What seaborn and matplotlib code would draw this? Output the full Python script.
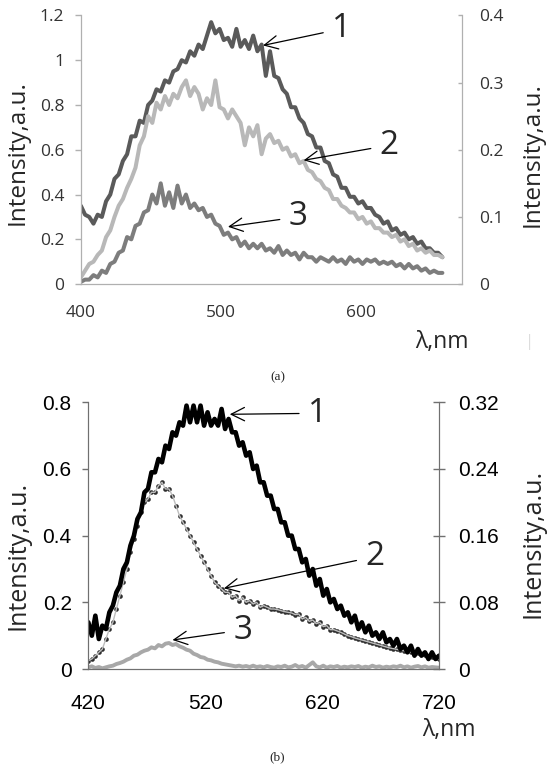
import numpy as np
import matplotlib
matplotlib.use("Agg")
import matplotlib.pyplot as plt
from matplotlib.ticker import FuncFormatter
import seaborn as sns

# ---- panel (a) ----
wl_a = np.arange(400, 661, 3)
a_curve1 = [0.35, 0.31, 0.30, 0.27, 0.31, 0.30, 0.37, 0.40, 0.47, 0.49,
            0.55, 0.58, 0.66, 0.66, 0.73, 0.72, 0.80, 0.82, 0.87, 0.86,
            0.91, 0.90, 0.95, 0.96, 1.00, 0.99, 1.04, 1.02, 1.07, 1.05,
            1.11, 1.17, 1.12, 1.14, 1.09, 1.10, 1.06, 1.14, 1.06, 1.09,
            1.05, 1.11, 1.04, 1.07, 0.93, 1.04, 0.93, 0.92, 0.87, 0.85,
            0.79, 0.79, 0.74, 0.72, 0.67, 0.66, 0.61, 0.61, 0.55, 0.54,
            0.49, 0.48, 0.43, 0.43, 0.39, 0.39, 0.36, 0.37, 0.34, 0.34,
            0.31, 0.30, 0.27, 0.28, 0.24, 0.25, 0.22, 0.23, 0.20, 0.21,
            0.18, 0.19, 0.16, 0.16, 0.14, 0.14, 0.12]
a_curve2 = [0.03, 0.06, 0.09, 0.10, 0.13, 0.15, 0.21, 0.24, 0.30, 0.35,
            0.38, 0.43, 0.47, 0.52, 0.62, 0.66, 0.75, 0.72, 0.81, 0.78,
            0.84, 0.80, 0.85, 0.83, 0.88, 0.91, 0.84, 0.88, 0.85, 0.78,
            0.83, 0.80, 0.91, 0.79, 0.78, 0.74, 0.78, 0.75, 0.72, 0.62,
            0.70, 0.66, 0.71, 0.58, 0.65, 0.67, 0.63, 0.64, 0.60, 0.61,
            0.57, 0.58, 0.54, 0.55, 0.51, 0.50, 0.47, 0.46, 0.43, 0.42,
            0.38, 0.38, 0.35, 0.34, 0.32, 0.32, 0.29, 0.30, 0.27, 0.28,
            0.25, 0.25, 0.23, 0.23, 0.21, 0.22, 0.19, 0.20, 0.17, 0.18,
            0.15, 0.16, 0.14, 0.15, 0.13, 0.13, 0.12]
a_curve3 = [0.01, 0.02, 0.02, 0.04, 0.03, 0.06, 0.05, 0.09, 0.10, 0.14,
            0.15, 0.21, 0.20, 0.26, 0.27, 0.32, 0.33, 0.40, 0.36, 0.45,
            0.35, 0.41, 0.34, 0.44, 0.36, 0.40, 0.34, 0.36, 0.33, 0.34,
            0.30, 0.31, 0.27, 0.26, 0.22, 0.23, 0.20, 0.21, 0.17, 0.19,
            0.16, 0.18, 0.16, 0.18, 0.15, 0.16, 0.14, 0.17, 0.13, 0.15,
            0.13, 0.14, 0.11, 0.14, 0.12, 0.12, 0.10, 0.12, 0.11, 0.10,
            0.12, 0.10, 0.11, 0.09, 0.12, 0.10, 0.11, 0.09, 0.11, 0.10,
            0.11, 0.09, 0.10, 0.09, 0.10, 0.08, 0.09, 0.07, 0.09, 0.07,
            0.08, 0.06, 0.07, 0.05, 0.06, 0.05, 0.05]
a_xticks = [400, 500, 600]
a_left_ticks = [0, 0.2, 0.4, 0.6, 0.8, 1.0, 1.2]
a_right_ticks = [0, 0.1, 0.2, 0.3, 0.4]

# ---- panel (b) ----
wl_b = np.arange(420, 721, 3)
b_curve1 = [0.14, 0.10, 0.16, 0.09, 0.13, 0.12, 0.17, 0.19, 0.23, 0.25,
            0.30, 0.32, 0.37, 0.40, 0.45, 0.47, 0.53, 0.54, 0.59, 0.59,
            0.63, 0.62, 0.67, 0.66, 0.71, 0.70, 0.74, 0.73, 0.79, 0.74,
            0.79, 0.74, 0.79, 0.73, 0.77, 0.73, 0.75, 0.73, 0.78, 0.72,
            0.75, 0.71, 0.71, 0.67, 0.68, 0.64, 0.65, 0.60, 0.61, 0.56,
            0.56, 0.52, 0.52, 0.48, 0.48, 0.44, 0.44, 0.40, 0.40, 0.36,
            0.36, 0.32, 0.33, 0.28, 0.30, 0.25, 0.27, 0.22, 0.24, 0.20,
            0.21, 0.18, 0.19, 0.16, 0.17, 0.14, 0.16, 0.12, 0.14, 0.11,
            0.13, 0.10, 0.11, 0.09, 0.11, 0.08, 0.09, 0.07, 0.09, 0.06,
            0.07, 0.05, 0.07, 0.04, 0.06, 0.04, 0.05, 0.03, 0.05, 0.03,
            0.04]
b_curve2 = [0.025, 0.03, 0.04, 0.05, 0.06, 0.09, 0.12, 0.14, 0.18, 0.22,
            0.26, 0.30, 0.35, 0.39, 0.43, 0.47, 0.50, 0.51, 0.53, 0.53,
            0.55, 0.56, 0.54, 0.54, 0.52, 0.49, 0.46, 0.44, 0.42, 0.40,
            0.38, 0.36, 0.34, 0.32, 0.30, 0.28, 0.26, 0.25, 0.24, 0.23,
            0.23, 0.215, 0.22, 0.205, 0.215, 0.20, 0.205, 0.195, 0.20, 0.185,
            0.19, 0.185, 0.18, 0.18, 0.178, 0.175, 0.172, 0.17, 0.168, 0.163,
            0.165, 0.15, 0.155, 0.143, 0.147, 0.136, 0.14, 0.127, 0.13, 0.118,
            0.118, 0.114, 0.11, 0.105, 0.10, 0.097, 0.093, 0.09, 0.087, 0.084,
            0.081, 0.078, 0.075, 0.072, 0.069, 0.066, 0.063, 0.061, 0.059, 0.057,
            0.055, 0.053, 0.051, 0.049, 0.047, 0.045, 0.043, 0.040, 0.037, 0.034,
            0.03]
b_curve3 = [0.005, 0.008, 0.003, 0.006, 0.002, 0.005, 0.008, 0.010, 0.015, 0.018,
            0.022, 0.028, 0.032, 0.040, 0.043, 0.050, 0.055, 0.058, 0.065, 0.062,
            0.072, 0.068, 0.076, 0.078, 0.072, 0.075, 0.068, 0.064, 0.058, 0.055,
            0.046, 0.042, 0.036, 0.034, 0.028, 0.026, 0.022, 0.020, 0.016, 0.014,
            0.012, 0.010, 0.008, 0.010, 0.007, 0.009, 0.006, 0.010, 0.006, 0.008,
            0.005, 0.009, 0.006, 0.004, 0.008, 0.006, 0.010, 0.005, 0.007, 0.012,
            0.006, 0.009, 0.004, 0.012, 0.020, 0.008, 0.005, 0.010, 0.004, 0.008,
            0.006, 0.009, 0.004, 0.007, 0.005, 0.008, 0.006, 0.009, 0.004, 0.007,
            0.005, 0.010, 0.006, 0.008, 0.004, 0.007, 0.005, 0.008, 0.006, 0.010,
            0.005, 0.008, 0.004, 0.007, 0.009, 0.005, 0.008, 0.004, 0.006, 0.005,
            0.004]
b_xticks = [420, 520, 620, 720]
b_left_ticks = [0, 0.2, 0.4, 0.6, 0.8]
b_right_ticks = [0, 0.08, 0.16, 0.24, 0.32]

sns.set_style("white")
plt.rcParams['font.family'] = ['Open Sans', 'DejaVu Sans']

fmt = FuncFormatter(lambda v, p: "%g" % round(v, 3))
H = 772.0

fig = plt.figure(figsize=(5.5, 7.72), dpi=100)

# panel (a)
ax = fig.add_axes([0.147, 0.632, 0.693, 0.348])
sns.lineplot(x=wl_a, y=a_curve1, ax=ax, color="#5a5a5a", linewidth=2.9)
sns.lineplot(x=wl_a, y=a_curve2, ax=ax, color="#b8b8b8", linewidth=2.9)
sns.lineplot(x=wl_a, y=a_curve3, ax=ax, color="#7d7d7d", linewidth=2.9)
ax.set_xlim(400, 672)
ax.set_ylim(0, 1.2)
ax.set_xticks(a_xticks)
ax.set_yticks(a_left_ticks)
ax.yaxis.set_major_formatter(fmt)
ax2 = ax.twinx()
ax2.set_ylim(0, 0.4)
ax2.set_yticks(a_right_ticks)
ax2.yaxis.set_major_formatter(fmt)
for a in (ax, ax2):
    for s in a.spines.values():
        s.set_color("#b0b0b0")
    a.spines["top"].set_visible(False)
    a.tick_params(colors="#b0b0b0", labelcolor="#333333", labelsize=12.5,
                  length=4, width=1, direction="out")
ax.tick_params(axis="x", pad=11)
ax.tick_params(axis="y", pad=8)
ax2.tick_params(axis="y", direction="in", length=3, pad=12)

fig.text(18 / 550, 1 - 153 / H, "Intensity,a.u.", fontsize=17.5, rotation=90,
         ha="center", va="center")
fig.text(533 / 550, 1 - 155 / H, "Intensity,a.u.", fontsize=17.5, rotation=90,
         ha="center", va="center")

for txt, xy, xyt in [("1", (530, 1.066), (586, 1.14)),
                     ("2", (559, 0.553), (620, 0.62)),
                     ("3", (505, 0.256), (555, 0.30))]:
    ax.annotate(txt, xy=xy, xytext=xyt, fontsize=24, ha="center", va="center",
                arrowprops=dict(arrowstyle="->", color="black", lw=0.9,
                                shrinkA=4, shrinkB=0))
fig.text(442 / 550, 1 - 342 / H, "λ,nm", fontsize=16.5, ha="center", va="center")
fig.text(530 / 550, 1 - 342 / H, "|", fontsize=12, color="#dddddd", ha="center", va="center")
fig.text(278 / 550, 1 - 377 / H, "(a)", fontsize=9.5, ha="center", va="center",
         family="Liberation Serif")

# panel (b)
bx = fig.add_axes([0.1606, 0.1334, 0.6376, 0.3455])
sns.lineplot(x=wl_b, y=b_curve2, ax=bx, color="#bdbdbd", linewidth=1.0)
sns.scatterplot(x=wl_b, y=b_curve2, ax=bx, color="#2e2e2e", s=11, linewidth=0)
sns.lineplot(x=wl_b, y=b_curve1, ax=bx, color="black", linewidth=3.3)
sns.lineplot(x=wl_b, y=b_curve3, ax=bx, color="#a8a8a8", linewidth=2.8)
bx.set_xlim(420, 720)
bx.set_ylim(0, 0.8)
bx.set_xticks(b_xticks)
bx.set_yticks(b_left_ticks)
bx.yaxis.set_major_formatter(fmt)
bx2 = bx.twinx()
bx2.set_ylim(0, 0.32)
bx2.set_yticks(b_right_ticks)
bx2.yaxis.set_major_formatter(fmt)
for a in (bx, bx2):
    for s in a.spines.values():
        s.set_color("#707070")
    a.spines["top"].set_visible(False)
    a.tick_params(colors="#707070", labelcolor="black", labelsize=15,
                  length=4, width=1, direction="out")
    for lab in a.get_xticklabels() + a.get_yticklabels():
        lab.set_family(["Liberation Sans Narrow", "Liberation Sans"])
bx.tick_params(axis="x", pad=14)
bx.tick_params(axis="y", pad=8)
bx2.tick_params(axis="y", direction="inout", length=9, pad=9)

fig.text(18 / 550, 1 - 555 / H, "Intensity,a.u.", fontsize=18, rotation=90,
         ha="center", va="center")
fig.text(533 / 550, 1 - 543 / H, "Intensity,a.u.", fontsize=18, rotation=90,
         ha="center", va="center")

for txt, xy, xyt in [("1", (541, 0.764), (616, 0.767)),
                     ("2", (536, 0.242), (665, 0.337)),
                     ("3", (492, 0.087), (552, 0.117))]:
    bx.annotate(txt, xy=xy, xytext=xyt, fontsize=24, ha="center", va="center",
                arrowprops=dict(arrowstyle="->", color="black", lw=0.9,
                                shrinkA=4, shrinkB=0))
fig.text(449 / 550, 1 - 730 / H, "λ,nm", fontsize=16.5, ha="center", va="center")
fig.text(277 / 550, 1 - 757 / H, "(b)", fontsize=9.5, ha="center", va="center",
         family="Liberation Serif")

fig.savefig("out.png", dpi=100)
